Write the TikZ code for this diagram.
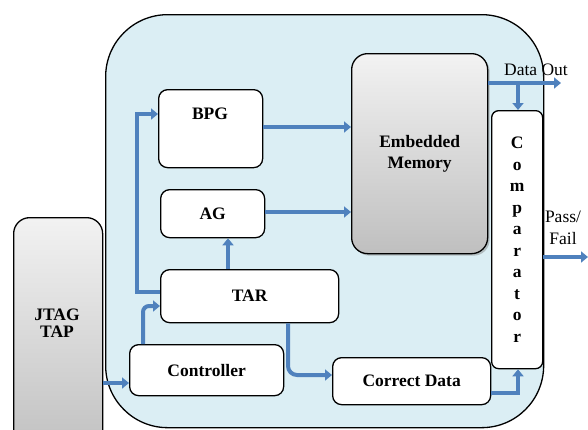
\documentclass[tikz,border=0pt]{standalone}
\usepackage{fontspec}
\setmainfont{Liberation Serif}
\usetikzlibrary{arrows.meta,shadows}
\definecolor{chipblue}{RGB}{219,238,244}
\definecolor{flowblue}{RGB}{79,129,189}
\newcommand{\boxlw}{1.3pt}
\newcommand{\blkfont}{\bfseries\fontsize{17.5}{21.5}\selectfont}
\newcommand{\lblfont}{\fontsize{17.5}{21.5}\selectfont}

\begin{document}
\begin{tikzpicture}[x=1pt, y=-1pt,
    blk/.style={draw, line width=\boxlw, rounded corners=9pt, fill=white,
                inner sep=0pt, anchor=north west, align=center, font=\blkfont},
    grayblk/.style={blk, rounded corners=16pt, top color=gray!10, bottom color=gray!50},
    flow/.style={draw=flowblue, line width=4pt, -{Triangle[length=7pt,width=11pt]}},
    lbl/.style={inner sep=0pt, align=center, font=\lblfont}]
    \useasboundingbox (0,0) rectangle (588,429);
    \clip (0,0) rectangle (588,429);
    %\draw[help lines, step=50] (0,0) grid (588,429);
    % chip outline
    \node[draw, line width=\boxlw, fill=chipblue, rounded corners=62pt, anchor=north west,
          minimum width=438, minimum height=413] (chip) at (105,14) {};
    % blocks
    \node[grayblk, minimum width=89, minimum height=240] (jtag) at (13,217) {};
    \node[font=\blkfont, align=center] (jtagtxt) at (57,323) {JTAG\\[-4pt]TAP};
    \node[blk, minimum width=104, minimum height=78] (bpg) at (158,89) {};
    \node[font=\blkfont] (bpgtxt) at (210,114) {BPG};
    \node[blk, minimum width=104, minimum height=48] (ag) at (160,189) {AG};
    \node[blk, minimum width=178, minimum height=53] (tar) at (160,269) {TAR};
    \node[blk, minimum width=154, minimum height=51] (ctrl) at (129,344) {Controller};
    \node[blk, minimum width=158, minimum height=47] (cdata) at (332,357) {Correct Data};
    \node[grayblk, drop shadow={shadow xshift=2pt, shadow yshift=-2pt, opacity=0.45},
          minimum width=136, minimum height=200] (mem) at (351,53) {Embedded\\Memory};
    \node[blk, rounded corners=7pt, minimum width=51, minimum height=258] (cmp) at (491,110)
          {C\\o\\m\\p\\a\\r\\a\\t\\o\\r};
    % outputs
    \coordinate (split) at (518,83);
    \coordinate (dout) at (561,83);
    \coordinate (pf) at (588,257);
    \node[lbl, anchor=base] (douttxt) at (536,75) {Data Out};
    \node[lbl] (pftxt) at (563,228) {Pass/\\Fail};
    % connectors
    \draw[flow] (jtag.east |- 0,383) -- (ctrl.west |- 0,383);
    \draw[flow, rounded corners=6pt] (ctrl.north -| 143,0) |- (tar.west |- 0,306);
    \draw[flow] (tar.west |- 0,292) -| (137,114) -- (bpg.west |- 0,114);
    \draw[flow] (tar.north -| 228,0) -- (ag.south -| 228,0);
    \draw[flow] (bpg.east |- 0,127) -- (mem.west |- 0,127);
    \draw[flow] (ag.east |- 0,212) -- (mem.west |- 0,212);
    \draw[flow, rounded corners=9pt] (tar.south -| 288,0) |- (cdata.west |- 0,375);
    \draw[flow] (mem.east |- split) -- (dout);
    \draw[flow] (split) -- (cmp.north -| split);
    \draw[flow] (cdata.east |- 0,393) -| (cmp.south -| split);
    \draw[flow] (cmp.east |- pf) -- (pf);
\end{tikzpicture}
\end{document}
